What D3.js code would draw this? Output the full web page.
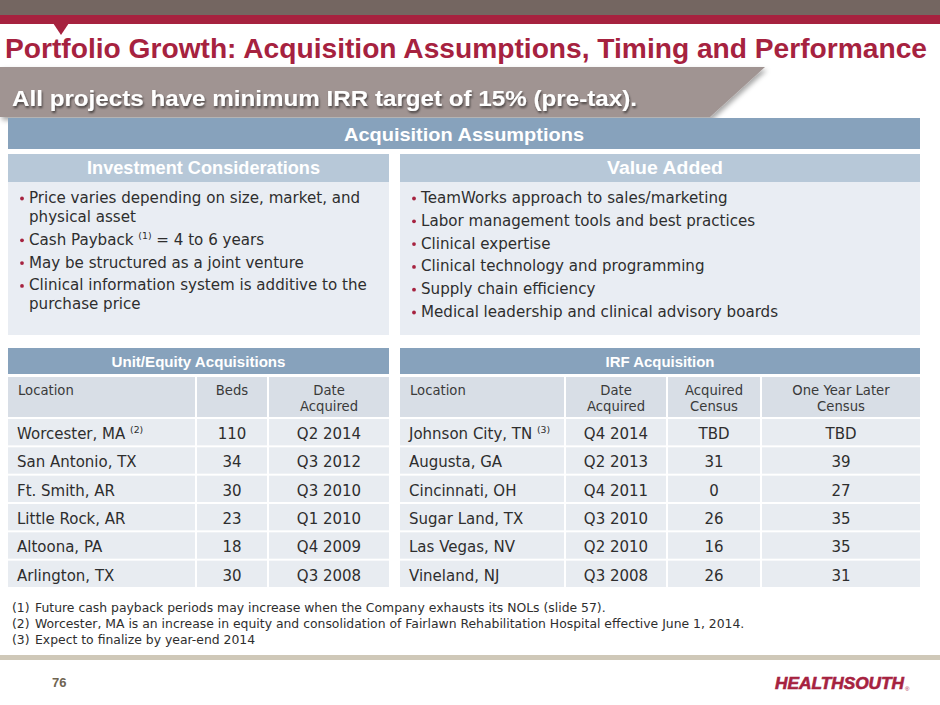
<!DOCTYPE html>
<html>
<head>
<meta charset="utf-8">
<script src="https://cdn.jsdelivr.net/npm/d3@7"></script>
<style>
html,body{margin:0;padding:0;background:#fff;}
svg{display:block;}
</style>
</head>
<body>
<script>
// ---------------- DATA ----------------
const slideTitle = "Portfolio Growth: Acquisition Assumptions, Timing and Performance";
const bannerText = "All projects have minimum IRR target of 15% (pre-tax).";
const sectionTitle = "Acquisition Assumptions";
const investmentTitle = "Investment Considerations";
const valueTitle = "Value Added";
const investmentBullets = [
  ["Price varies depending on size, market, and", "physical asset"],
  ["Cash Payback [(1)]  = 4 to 6 years"],
  ["May be structured as a joint venture"],
  ["Clinical information system is additive to the", "purchase price"]
];
const valueBullets = [
  ["TeamWorks approach to sales/marketing"],
  ["Labor management tools and best practices"],
  ["Clinical expertise"],
  ["Clinical technology and programming"],
  ["Supply chain efficiency"],
  ["Medical leadership and clinical advisory boards"]
];
const unitTitle = "Unit/Equity Acquisitions";
const unitHeaders = [["Location"], ["Beds"], ["Date", "Acquired"]];
const unitLocations = ["Worcester, MA [(2)]", "San Antonio, TX", "Ft. Smith, AR", "Little Rock, AR", "Altoona, PA", "Arlington, TX"];
const unitBeds = [110, 34, 30, 23, 18, 30];
const unitDates = ["Q2 2014", "Q3 2012", "Q3 2010", "Q1 2010", "Q4 2009", "Q3 2008"];

const irfTitle = "IRF Acquisition";
const irfHeaders = [["Location"], ["Date", "Acquired"], ["Acquired", "Census"], ["One Year Later", "Census"]];
const irfLocations = ["Johnson City, TN [(3)]", "Augusta, GA", "Cincinnati, OH", "Sugar Land, TX", "Las Vegas, NV", "Vineland, NJ"];
const irfDates = ["Q4 2014", "Q2 2013", "Q4 2011", "Q3 2010", "Q2 2010", "Q3 2008"];
const irfAcquiredCensus = ["TBD", 31, 0, 26, 16, 26];
const irfLaterCensus = ["TBD", 39, 27, 35, 35, 31];

const footnoteNums = ["(1)", "(2)", "(3)"];
const footnotes = [
  "Future cash payback periods may increase when the Company exhausts its NOLs (slide 57).",
  "Worcester, MA is an increase in equity and consolidation of Fairlawn Rehabilitation Hospital effective June 1, 2014.",
  "Expect to finalize by year-end 2014"
];
const pageNumber = "76";
const logoText = "HEALTHSOUTH";

// ---------------- STYLE ----------------
const W = 940, H = 705;
const RED = "#a6223f", BROWN = "#746661", BLUE = "#87a2bc", LBLUE = "#b7c8d8",
      BODY = "#e9edf3", HEADROW = "#d8dee6", ROW = "#e8ecf1", TXT = "#2e2e2e";
const BODYFONT = "'DejaVu Sans', sans-serif";
const BOLDFONT = "'Liberation Sans', Arial, sans-serif";

const svg = d3.select("body").append("svg").attr("width", W).attr("height", H);
const defs = svg.append("defs");
const f1 = defs.append("filter").attr("id", "bannerShadow").attr("x", "-5%").attr("y", "-20%").attr("width", "110%").attr("height", "160%");
f1.append("feDropShadow").attr("dx", 2).attr("dy", 3).attr("stdDeviation", 2.5).attr("flood-color", "#000").attr("flood-opacity", 0.35);
const f2 = defs.append("filter").attr("id", "textShadow").attr("x", "-5%").attr("y", "-30%").attr("width", "110%").attr("height", "170%");
f2.append("feDropShadow").attr("dx", 1).attr("dy", 2).attr("stdDeviation", 1.2).attr("flood-color", "#000").attr("flood-opacity", 0.55);

// rich text helper: [..] => superscript
function rich(sel, str, size) {
  const parts = str.split(/(\[[^\]]*\])/).filter(s => s.length);
  let pending = 0;
  parts.forEach(p => {
    if (p.startsWith("[")) {
      sel.append("tspan").attr("dy", -size * 0.38).attr("font-size", size * 0.62).text(" " + p.slice(1, -1));
      pending = size * 0.38;
    } else {
      const ts = sel.append("tspan").text(p);
      if (pending) { ts.attr("dy", pending); pending = 0; }
    }
  });
}

// ---------------- HEADER ----------------
svg.append("rect").attr("x", 0).attr("y", 0).attr("width", W).attr("height", 15).attr("fill", BROWN);
svg.append("rect").attr("x", 0).attr("y", 15).attr("width", W).attr("height", 9).attr("fill", RED);
svg.append("path").attr("d", d3.line()([[53, 23], [69, 23], [61, 35]]) + "Z").attr("fill", RED);

svg.append("text").attr("x", 5).attr("y", 58)
  .attr("font-family", BOLDFONT).attr("font-weight", "bold").attr("font-size", 28)
  .attr("fill", RED).attr("textLength", 922).attr("lengthAdjust", "spacingAndGlyphs")
  .text(slideTitle);

svg.append("path").attr("d", d3.line()([[0, 67], [765, 67], [710, 117], [0, 117]]) + "Z")
  .attr("fill", "#a09492").attr("filter", "url(#bannerShadow)");
svg.append("text").attr("x", 12).attr("y", 106)
  .attr("font-family", BOLDFONT).attr("font-weight", "bold").attr("font-size", 22)
  .attr("fill", "#fff").attr("textLength", 625).attr("lengthAdjust", "spacingAndGlyphs")
  .attr("filter", "url(#textShadow)")
  .text(bannerText);

// ---------------- ACQUISITION ASSUMPTIONS ----------------
svg.append("rect").attr("x", 8).attr("y", 118).attr("width", 912).attr("height", 31).attr("fill", BLUE);
svg.append("text").attr("x", 464).attr("y", 141).attr("text-anchor", "middle")
  .attr("font-family", BOLDFONT).attr("font-weight", "bold").attr("font-size", 19)
  .attr("fill", "#fff").attr("textLength", 240).attr("lengthAdjust", "spacingAndGlyphs")
  .text(sectionTitle);

function bulletBox(x, w, title, titleW, bullets) {
  svg.append("rect").attr("x", x).attr("y", 154).attr("width", w).attr("height", 28).attr("fill", LBLUE);
  svg.append("text").attr("x", x + w / 2 + 5).attr("y", 174).attr("text-anchor", "middle")
    .attr("font-family", BOLDFONT).attr("font-weight", "bold").attr("font-size", 18)
    .attr("fill", "#fff").attr("textLength", titleW).attr("lengthAdjust", "spacingAndGlyphs")
    .text(title);
  svg.append("rect").attr("x", x).attr("y", 182).attr("width", w).attr("height", 153).attr("fill", BODY);
  let y = 203;
  bullets.forEach(lines => {
    svg.append("circle").attr("cx", x + 14).attr("cy", y - 4.5).attr("r", 1.9).attr("fill", RED);
    lines.forEach((ln, i) => {
      const t = svg.append("text").attr("x", x + 21).attr("y", y)
        .attr("font-family", BODYFONT).attr("font-size", 15.1).attr("fill", TXT);
      rich(t, ln, 15.1);
      y += (i < lines.length - 1) ? 19 : 22.8;
    });
  });
}
bulletBox(8, 381, investmentTitle, 233, investmentBullets);
bulletBox(400, 520, valueTitle, 116, valueBullets);

// ---------------- TABLES ----------------
const rowScale = d3.scaleBand().domain(d3.range(6)).range([419, 587]).paddingInner(0.07);

function table(x0, x1, title, titleW, cols, headers, columnsData, aligns) {
  svg.append("rect").attr("x", x0).attr("y", 348).attr("width", x1 - x0).attr("height", 26).attr("fill", BLUE);
  svg.append("text").attr("x", (x0 + x1) / 2).attr("y", 367).attr("text-anchor", "middle")
    .attr("font-family", BOLDFONT).attr("font-weight", "bold").attr("font-size", 15)
    .attr("fill", "#fff").attr("textLength", titleW).attr("lengthAdjust", "spacingAndGlyphs")
    .text(title);
  cols.forEach((c, ci) => {
    svg.append("rect").attr("x", c.x).attr("y", 377).attr("width", c.w).attr("height", 40).attr("fill", HEADROW);
    headers[ci].forEach((h, li) => {
      svg.append("text")
        .attr("x", aligns[ci] === "start" ? c.x + 10 : c.x + c.w / 2)
        .attr("y", 395 + li * 16)
        .attr("text-anchor", aligns[ci])
        .attr("font-family", BODYFONT).attr("font-size", 13.2).attr("fill", "#3a3a3a")
        .text(h);
    });
  });
  d3.range(6).forEach(r => {
    const y = rowScale(r);
    cols.forEach((c, ci) => {
      svg.append("rect").attr("x", c.x).attr("y", y).attr("width", c.w).attr("height", rowScale.bandwidth()).attr("fill", ROW);
      const t = svg.append("text")
        .attr("x", aligns[ci] === "start" ? c.x + 9 : c.x + c.w / 2)
        .attr("y", y + 20)
        .attr("text-anchor", aligns[ci])
        .attr("font-family", BODYFONT).attr("font-size", 15).attr("fill", TXT);
      rich(t, String(columnsData[ci][r]), 15);
    });
  });
}

table(8, 389, unitTitle, 174,
  [{x: 8, w: 187}, {x: 197, w: 70}, {x: 269, w: 120}],
  unitHeaders, [unitLocations, unitBeds, unitDates], ["start", "middle", "middle"]);

table(400, 920, irfTitle, 109,
  [{x: 400, w: 164}, {x: 566, w: 100}, {x: 668, w: 92}, {x: 762, w: 158}],
  irfHeaders, [irfLocations, irfDates, irfAcquiredCensus, irfLaterCensus], ["start", "middle", "middle", "middle"]);

// ---------------- FOOTNOTES ----------------
footnotes.forEach((f, i) => {
  svg.append("text").attr("x", 12).attr("y", 612 + i * 16)
    .attr("font-family", BODYFONT).attr("font-size", 12.4).attr("fill", TXT).text(footnoteNums[i]);
  svg.append("text").attr("x", 35).attr("y", 612 + i * 16)
    .attr("font-family", BODYFONT).attr("font-size", 12.4).attr("fill", TXT).text(f);
});

// ---------------- FOOTER ----------------
svg.append("rect").attr("x", 0).attr("y", 655).attr("width", W).attr("height", 5).attr("fill", "#cfc8b8");
svg.append("text").attr("x", 52).attr("y", 687)
  .attr("font-family", BOLDFONT).attr("font-weight", "bold").attr("font-size", 13)
  .attr("fill", "#6f6452").text(pageNumber);
svg.append("text").attr("x", 775).attr("y", 689)
  .attr("font-family", BOLDFONT).attr("font-weight", "bold").attr("font-style", "italic").attr("font-size", 17)
  .attr("fill", RED).attr("textLength", 129).attr("lengthAdjust", "spacingAndGlyphs")
  .attr("stroke", RED).attr("stroke-width", 0.6)
  .text(logoText);
svg.append("text").attr("x", 905).attr("y", 691)
  .attr("font-family", BOLDFONT).attr("font-size", 6).attr("fill", RED).text("®");
</script>
</body>
</html>
